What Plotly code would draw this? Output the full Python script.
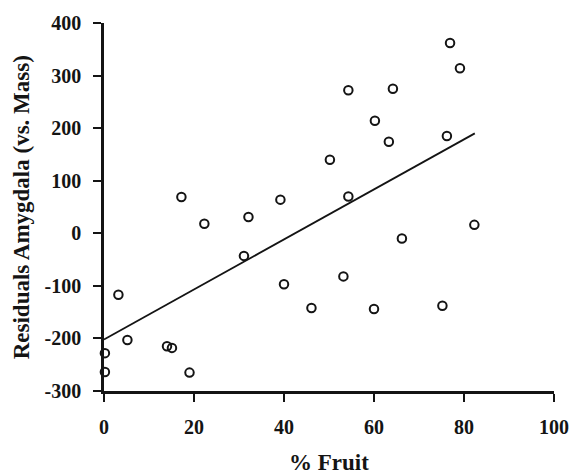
import plotly.graph_objects as go

# % fruit in diet and amygdala residuals (vs. body mass)
fruit_pct = [76.9, 79.1, 54.3, 64.2, 60.2, 63.3, 76.2, 50.2, 17.2, 39.2,
             54.3, 22.3, 32.1, 82.3, 66.2, 31.1, 53.2, 40.0, 3.2, 46.1,
             60.0, 75.2, 5.2, 14.0, 15.1, 0.2, 0.2, 19.0]
amygdala_resid = [362, 314, 272, 275, 214, 174, 185, 140, 69, 64,
                  70, 18, 31, 16, -10, -43, -82, -97, -117, -142,
                  -144, -138, -203, -215, -218, -228, -264, -265]

# least-squares line as drawn
fit_x = [0, 82.4]
fit_y = [-202, 190]

x_ticks = [0, 20, 40, 60, 80, 100]
x_tick_text = ["0", "20", "40", "60", "80", "100"]
y_ticks = [-300, -200, -100, 0, 100, 200, 300, 400]
y_tick_text = ["-300", "-200", "-100", "0", "100", "200", "300", "400"]

ink = "#141414"
serif = "Liberation Serif"

fig = go.Figure()
fig.add_trace(go.Scatter(
    x=fit_x, y=fit_y, mode="lines",
    line=dict(color=ink, width=1.8), hoverinfo="skip", showlegend=False))
fig.add_trace(go.Scatter(
    x=fruit_pct, y=amygdala_resid, mode="markers",
    marker=dict(symbol="circle-open", size=8.5, color=ink,
                line=dict(color=ink, width=2)),
    showlegend=False, cliponaxis=False))

axis_common = dict(
    showgrid=False, zeroline=False, showline=True, linecolor=ink,
    linewidth=2.5, ticks="outside", ticklen=8, tickwidth=2, tickcolor=ink,
    tickfont=dict(family=serif, size=20, color=ink, weight="bold"),
)

fig.update_xaxes(range=[0, 100], tickvals=x_ticks, ticktext=x_tick_text,
                 ticklabelstandoff=8, **axis_common)
fig.update_yaxes(range=[-300, 400], tickvals=y_ticks, ticktext=y_tick_text,
                 ticklabelstandoff=8, **axis_common)

fig.update_layout(
    width=581, height=476,
    margin=dict(l=104, r=20, t=20, b=85),
    plot_bgcolor="white", paper_bgcolor="white",
    font=dict(family=serif, color=ink),
    annotations=[
        dict(text="<b>% Fruit</b>", xref="paper", yref="paper",
             x=0.5, y=-(463 - 391) / 371, xanchor="center", yanchor="middle",
             showarrow=False, font=dict(family=serif, size=23, color=ink)),
        dict(text="<b>Residuals Amygdala (vs. Mass)</b>", xref="paper",
             yref="paper", x=-(104 - 20) / 457, y=0.5, textangle=-90,
             xanchor="center", yanchor="middle", showarrow=False,
             font=dict(family=serif, size=23, color=ink)),
    ],
)

fig.write_html("out.html")
